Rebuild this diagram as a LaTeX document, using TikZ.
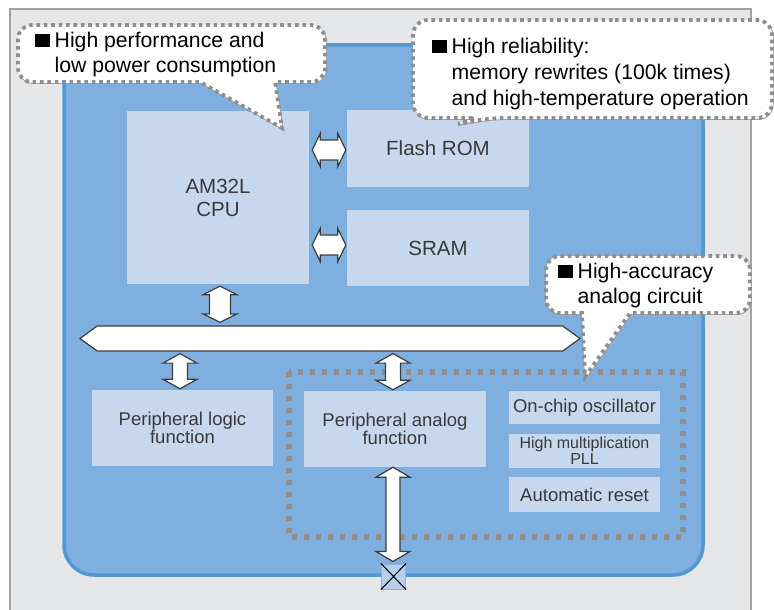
\documentclass[tikz,border=0pt]{standalone}
\usepackage{fontspec}
\setmainfont{Liberation Sans}
\usetikzlibrary{calc,shapes.symbols}
\definecolor{framefill}{HTML}{E6E7E9}
\definecolor{framedraw}{HTML}{A3A3A3}
\definecolor{chipfill}{HTML}{7FAFDF}
\definecolor{chipdraw}{HTML}{5496D2}
\definecolor{boxfill}{HTML}{C6D7EE}
\definecolor{boxtext}{HTML}{3A3A3A}
\definecolor{dotgray}{HTML}{8E8E8E}
\definecolor{arrowdraw}{HTML}{3C3C3C}
\newcommand\blockH[5]{%
  \draw[barrow] let \p1=#1, \p2=#2 in
    (\x1,\y1) -- (\x1+#5,\y1+#4) -- (\x1+#5,\y1+#3) -- (\x2-#5,\y1+#3) -- (\x2-#5,\y1+#4)
    -- (\x2,\y1) -- (\x2-#5,\y1-#4) -- (\x2-#5,\y1-#3) -- (\x1+#5,\y1-#3) -- (\x1+#5,\y1-#4) -- cycle;}
\newcommand\blockV[5]{%
  \draw[barrow] let \p1=#1, \p2=#2 in
    (\x1,\y1) -- (\x1+#4,\y1-#5) -- (\x1+#3,\y1-#5) -- (\x1+#3,\y2+#5) -- (\x1+#4,\y2+#5)
    -- (\x1,\y2) -- (\x1-#4,\y2+#5) -- (\x1-#3,\y2+#5) -- (\x1-#3,\y1-#5) -- (\x1-#4,\y1-#5) -- cycle;}
\newcommand\sqmark{\rule[0pt]{14.5pt}{13.5pt}\hspace{5pt}}
\newcommand\sqspace{\hspace*{19.5pt}}
\tikzset{
  box/.style={fill=boxfill, draw=none, text=boxtext, align=center, inner sep=0pt,
    font=\fontsize{20.5}{23}\selectfont},
  smallbox/.style={box, font=\fontsize{18.5}{17}\selectfont},
  barrow/.style={draw=arrowdraw, fill=white, line width=1.2pt, line join=miter},
  callout/.style={draw=dotgray, line width=3.8pt, dash pattern=on 3.6pt off 3.8pt, fill=white},
  calloutshadow/.style={draw=framedraw, line width=0.9pt, fill=white},
  callouttext/.style={align=left, inner sep=0pt, text=black, anchor=west,
    font=\fontsize{21.2}{25.5}\selectfont},
}
\begin{document}
\begin{tikzpicture}[x=1pt,y=-1pt]
\useasboundingbox (0,0) rectangle (774,610);
% frame
\fill[white] (0,0) rectangle (774,610);
\draw[fill=framefill, draw=framedraw, line width=2pt] (10,9) -- (751,9) -- (751,614) -- (10,614) -- cycle;
% chip
\draw[fill=chipfill, draw=chipdraw, line width=3.5pt, rounded corners=30pt] (64,45) rectangle (703,575);
% boxes
\node[box, minimum width=182, minimum height=173] (cpu) at (218,197.5) {AM32L\\CPU};
\node[box, minimum width=182, minimum height=77] (flash) at (438,148.5) {Flash ROM};
\node[box, minimum width=182, minimum height=76] (sram) at (438,248) {SRAM};
\node[smallbox, minimum width=181, minimum height=76] (plogic) at (182.5,428) {Peripheral logic\\function};
\node[smallbox, minimum width=182, minimum height=76] (panalog) at (395,429) {Peripheral analog\\function};
\node[smallbox, minimum width=151, minimum height=33] (osc) at (584.5,407.5) {On-chip oscillator};
\node[box, font=\fontsize{16}{16}\selectfont, minimum width=151, minimum height=34] (pll) at (584.5,451) {High multiplication\\PLL};
\node[smallbox, minimum width=151, minimum height=35] (reset) at (584.5,494.5) {Automatic reset};
% analog region
\draw[draw=dotgray, line width=5.2pt, dash pattern=on 5pt off 7pt] (289,372) rectangle (683,537);
% bus
\node[signal, signal to=west and east, signal pointer angle=72, draw=arrowdraw, fill=white,
  line width=1.2pt, minimum width=500, minimum height=25, inner sep=0pt] (bus) at (330,338.5) {};
% X terminal
\node[draw=chipdraw!70, fill=boxfill!80!chipfill, line width=1pt, minimum width=24, minimum height=25, inner sep=0pt] (term) at (393.5,576.5) {};
\draw[black, line width=1.1pt] (term.north west) -- (term.south east) (term.north east) -- (term.south west);
% arrows
\blockH{($(cpu.east |- flash.west)+(3,1.5)$)}{($(flash.west)+(-1,0)$)}{10pt}{16.5pt}{8pt}
\blockH{($(cpu.east |- sram.west)+(3,-3)$)}{($(sram.west)+(-1,0)$)}{10pt}{16.5pt}{8pt}
\blockV{($(cpu.south)+(2,2)$)}{($(bus.north -| cpu.south)+(2,-3)$)}{10.5pt}{17pt}{8.5pt}
\blockV{($(bus.south -| plogic.north)+(-2.5,2)$)}{($(plogic.north)+(-2.5,-1)$)}{7.5pt}{17pt}{9.5pt}
\blockV{($(bus.south -| panalog.north)+(-2,2)$)}{($(panalog.north)+(-2,-1)$)}{7.5pt}{17pt}{9.5pt}
\blockV{($(panalog.south)+(-2,0)$)}{($(term.north)+(-0.5,-2)$)}{7pt}{17pt}{10pt}
% callouts
\draw[calloutshadow, rounded corners=14pt, shift={(1.2,1.5)}] (170,25) -- (325,25) -- (325,82) [sharp corners] -- (275,82) -- (282,128) -- (200,82) [rounded corners=14pt] -- (18,82) -- (18,25) -- cycle;
\draw[callout, rounded corners=14pt] (170,25) -- (325,25) -- (325,82) [sharp corners] -- (275,82) -- (282,128) -- (200,82) [rounded corners=14pt] -- (18,82) -- (18,25) -- cycle;
\node[callouttext] (c1) at (35,54.5) {\sqmark High performance and\\\sqspace low power consumption};

\draw[calloutshadow, rounded corners=15pt, shift={(1.2,1.5)}] (600,20) -- (772,20) -- (772,118) -- (490,118) [sharp corners] -- (458,124) -- (475,118) [rounded corners=15pt] -- (413,118) -- (413,20) -- cycle;
\draw[callout, rounded corners=15pt] (600,20) -- (772,20) -- (772,118) -- (490,118) [sharp corners] -- (458,124) -- (475,118) [rounded corners=15pt] -- (413,118) -- (413,20) -- cycle;
\node[callouttext, font=\fontsize{21.2}{26}\selectfont] (c2) at (432,74) {\sqmark High reliability:\\\sqspace memory rewrites (100k times)\\\sqspace and high-temperature operation};

\draw[calloutshadow, rounded corners=14pt, shift={(1.2,1.5)}] (650,256) -- (750,256) -- (750,313) [sharp corners] -- (630,313) -- (585,377) -- (582,313) [rounded corners=14pt] -- (546,313) -- (546,256) -- cycle;
\draw[callout, rounded corners=14pt] (650,256) -- (750,256) -- (750,313) [sharp corners] -- (630,313) -- (585,377) -- (582,313) [rounded corners=14pt] -- (546,313) -- (546,256) -- cycle;
\node[callouttext] (c3) at (558,285.5) {\sqmark High-accuracy\\\sqspace analog circuit};
\end{tikzpicture}
\end{document}
